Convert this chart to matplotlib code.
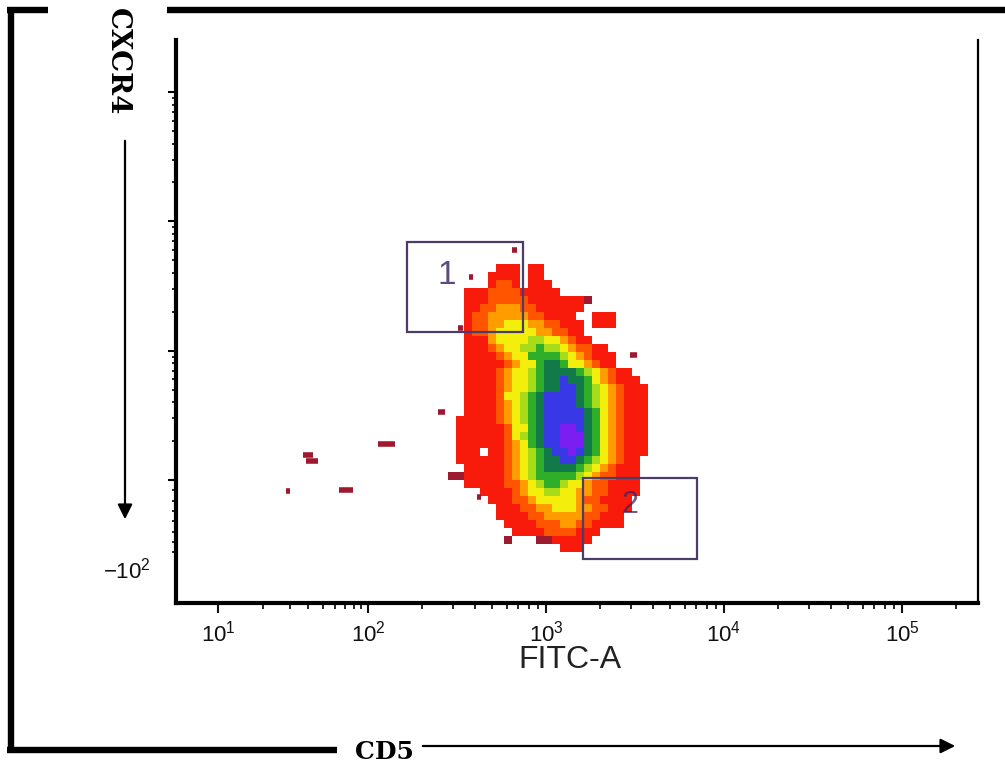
import numpy as np
import matplotlib.pyplot as plt
from matplotlib.colors import ListedColormap, BoundaryNorm
from matplotlib.patches import Rectangle
from matplotlib.lines import Line2D

# ---- data (axis units: decades of the display scale) ----
# density grid, one string per row (top -> bottom)
# 0 empty, 1 dark red ... A violet (hex digit)
DENSITY_ROWS = [
    "00000022202200000000000000",
    "00000222202200000000000000",
    "00000233202220000000000000",
    "00222333322222000000000000",
    "00222333332222222100000000",
    "00223344433222222000000000",
    "00233444443322220022200000",
    "00233445554433222022200000",
    "00233455555443322000000000",
    "00222455556655432200000000",
    "00222345566766543322000000",
    "00222234557777654322200000",
    "00222223455788755432200000",
    "00222234556788887654322000",
    "00222234556788988754322200",
    "00222234556788998765432220",
    "00222235567899998765432220",
    "00222234567899998765432220",
    "00222234567899999875432220",
    "02222234567899999875432220",
    "02222223557899AA9875432220",
    "02222223567899AAA875432220",
    "02222223457899AAA875432220",
    "022202234567899A9875432220",
    "02222223456788998765432200",
    "00222223456788887654322200",
    "11222223456777776543322200",
    "00222223345677655433222200",
    "00002222345566554433222200",
    "00000222334555554332222000",
    "00000022233445554433222000",
    "00000022223344444332220000",
    "00000002222333443322220000",
    "00000000222233332220000000",
    "00000001000112222200000000",
    "00000000000000222000000000",
]
GRID_X0 = 2.449     # left edge of first column
GRID_DX = 0.0449    # column width
GRID_Y0 = 3.670     # top edge of first row
GRID_DY = 0.0619    # row height

# isolated events (x start, x end, y)
OUT_X0 = [1.635, 1.652, 2.056, 1.837, 1.539, 2.393, 3.472, 2.612, 2.809, 2.567, 2.506]
OUT_X1 = [1.691, 1.719, 2.152, 1.916, 1.562, 2.433, 3.511, 2.635, 2.837, 2.590, 2.534]
OUT_Y = [2.193, 2.147, 2.278, 1.923, 1.915, 2.526, 2.967, 1.869, 3.779, 3.570, 3.176]

# gates: (x0, x1, y0, y1) and label positions
GATE_NAMES = ["1", "2"]
GATE_X0 = [2.219, 3.208]
GATE_X1 = [2.871, 3.848]
GATE_Y0 = [3.145, 1.389]
GATE_Y1 = [3.841, 2.015]
GATE_LABEL_X = [2.444, 3.472]
GATE_LABEL_Y = [3.585, 1.81]

X_TICKS = [1.157, 2, 3, 4, 5]
X_TICK_LABELS = [r"$10^{1}$", r"$10^{2}$", r"$10^{3}$", r"$10^{4}$", r"$10^{5}$"]
Y_TICKS = [2, 3, 4, 5]
NEG_LABEL_Y = 1.30
NEG_LABEL = r"$-10^{2}$"

LEVEL_COLORS = ["#9c1b2e", "#f81a0a", "#ff5400", "#ff9c00", "#f4ee0c",
                "#a8dc18", "#2fae2a", "#127a48", "#3838e6", "#7a1ef2"]

# ---- style ----
plt.rcParams["font.family"] = ["Liberation Sans", "DejaVu Sans"]
plt.rcParams["mathtext.fontset"] = "custom"
plt.rcParams["mathtext.rm"] = "Liberation Sans"
plt.rcParams["mathtext.it"] = "Liberation Sans"

W, H = 1005, 765
fig = plt.figure(figsize=(W / 100, H / 100), dpi=100)

def fx(px): return px / W
def fy(py): return 1 - py / H

ax = fig.add_axes([fx(176), fy(603), fx(978) - fx(176), fy(40) - fy(603)])
ax.set_xlim(0.921, 5.427)
ax.set_ylim(1.049, 5.403)

# ---- density ----
grid = np.array([[int(c, 16) for c in row] for row in DENSITY_ROWS], dtype=float)
grid = grid[::-1]  # bottom row first
nrows, ncols = grid.shape
x_edges = GRID_X0 + GRID_DX * np.arange(ncols + 1)
y_edges = GRID_Y0 - GRID_DY * nrows + GRID_DY * np.arange(nrows + 1)
cmap = ListedColormap(LEVEL_COLORS)
norm = BoundaryNorm(np.arange(0.5, 11.5, 1), cmap.N)
ax.pcolormesh(x_edges, y_edges, np.ma.masked_equal(grid, 0), cmap=cmap, norm=norm,
              shading="flat", zorder=2)

ax.hlines(OUT_Y, OUT_X0, OUT_X1, colors="#a0182e", lw=4, zorder=2)

# ---- gates ----
for x0, x1, y0, y1 in zip(GATE_X0, GATE_X1, GATE_Y0, GATE_Y1):
    ax.add_patch(Rectangle((x0, y0), x1 - x0, y1 - y0, fill=False,
                           ec="#4a3d68", lw=1.6, zorder=3))
ax.text(GATE_LABEL_X[0], GATE_LABEL_Y[0], GATE_NAMES[0], fontsize=24,
        color="#5a4c7c", ha="center", va="center", zorder=3)
ax.text(GATE_LABEL_X[1], GATE_LABEL_Y[1], GATE_NAMES[1], fontsize=22,
        color="#3a2468", ha="center", va="center", zorder=3, alpha=0.75)

# ---- axes cosmetics ----
for s in ["left", "bottom"]:
    ax.spines[s].set_linewidth(3)
ax.spines["right"].set_linewidth(1.6)
ax.spines["top"].set_visible(False)

ax.set_xticks(X_TICKS, X_TICK_LABELS)
x_minor = [X_TICKS[0] + (2 - X_TICKS[0]) * np.log10(k) for k in range(2, 10)]
x_minor += [d + np.log10(k) for d in (2, 3, 4, 5) for k in range(2, 10)
            if d + np.log10(k) < 5.42]
ax.set_xticks(x_minor, minor=True)
ax.tick_params(axis="x", which="major", length=7, width=1.5, labelsize=16,
               pad=6, colors="#111")
ax.tick_params(axis="x", which="minor", length=4, width=1.2)

ax.set_yticks(Y_TICKS, [""] * len(Y_TICKS))
y_minor = [d + np.log10(k) for d in (2, 3, 4) for k in range(2, 10)]
y_minor += [2 - 0.08 * k for k in range(1, 8)]
ax.set_yticks(y_minor, minor=True)
ax.tick_params(axis="y", which="major", length=6, width=1.5)
ax.tick_params(axis="y", which="minor", length=3, width=1.2)

ax.text(-0.032, NEG_LABEL_Y, NEG_LABEL, transform=ax.get_yaxis_transform(),
        ha="right", va="center", fontsize=16, color="#111")

fig.text(fx(570), fy(660), "FITC-A", ha="center", va="center", fontsize=23, color="#222")

# ---- outer frame, arrows and labels ----
frame_kw = dict(color="black", lw=4.6, solid_capstyle="butt", transform=fig.transFigure)
fig.add_artist(Line2D([fx(11), fx(11)], [fy(7), fy(753)], **frame_kw))
fig.add_artist(Line2D([fx(7), fx(48)], [fy(10), fy(10)], **frame_kw))
fig.add_artist(Line2D([fx(167), fx(1005)], [fy(10), fy(10)], **frame_kw))
fig.add_artist(Line2D([fx(7), fx(337)], [fy(750), fy(750)], **frame_kw))

fig.text(fx(117), fy(62), "CXCR4", rotation=-90, ha="center", va="center",
         fontsize=20, fontweight="bold", family="DejaVu Serif")
fig.text(fx(384), fy(752), "CD5", ha="center", va="center",
         fontsize=18, fontweight="bold", family="DejaVu Serif")

arrow_kw = dict(arrowstyle="-|>", lw=1.6, color="black", mutation_scale=22)
ax.annotate("", xy=(fx(958), fy(746)), xytext=(fx(420), fy(746)),
            xycoords="figure fraction", textcoords="figure fraction", arrowprops=arrow_kw)
ax.annotate("", xy=(fx(125), fy(522)), xytext=(fx(125), fy(138)),
            xycoords="figure fraction", textcoords="figure fraction", arrowprops=arrow_kw)

fig.savefig("out.png", dpi=100)
